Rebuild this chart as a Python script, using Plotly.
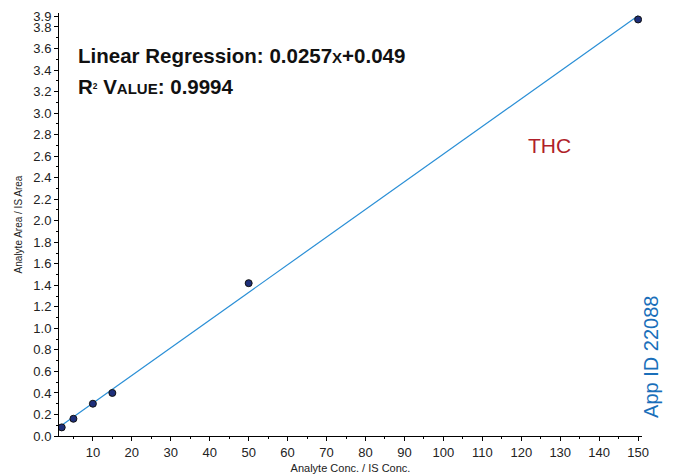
import plotly.graph_objects as go

conc = [2, 5, 10, 15, 50, 150]
ratio = [0.08, 0.16, 0.30, 0.40, 1.42, 3.87]
slope = 0.0257
intercept = 0.049
fit_x = [2, 150]
fit_y = [slope * v + intercept for v in fit_x]

x_tick_vals = [10, 20, 30, 40, 50, 60, 70, 80, 90, 100, 110, 120, 130, 140, 150]
y_tick_vals = [0.0, 0.2, 0.4, 0.6, 0.8, 1.0, 1.2, 1.4, 1.6, 1.8, 2.0, 2.2, 2.4,
               2.6, 2.8, 3.0, 3.2, 3.4, 3.6, 3.8, 3.9]
y_tick_text = ["%.1f" % v for v in y_tick_vals]

fig = go.Figure()
fig.add_trace(go.Scatter(x=fit_x, y=fit_y, mode="lines",
                         line=dict(color="#2a8fd6", width=1.2), showlegend=False))
fig.add_trace(go.Scatter(x=conc, y=ratio, mode="markers",
                         marker=dict(color="#1e2f7a", size=7,
                                     line=dict(color="#111111", width=1)),
                         showlegend=False))

font_main = "Liberation Sans, Arial, sans-serif"
fig.update_layout(
    width=675, height=474,
    margin=dict(l=59, r=33, t=13, b=38, autoexpand=False),
    paper_bgcolor="white", plot_bgcolor="white",
    font=dict(family=font_main, color="#222222"),
    xaxis=dict(range=[1.3, 151], showgrid=False, zeroline=False, automargin=False,
               showline=True, linecolor="black", linewidth=1,
               tickmode="array", tickvals=x_tick_vals,
               ticks="outside", ticklen=4, tickcolor="black",
               tickfont=dict(size=13, color="#222222"),
               minor=dict(tickmode="linear", tick0=0, dtick=5, ticks="outside",
                          ticklen=2, tickcolor="black"),
               title=dict(text="Analyte Conc. / IS Conc.",
                          font=dict(size=11, color="#222222"), standoff=6)),
    yaxis=dict(range=[0, 3.93], showgrid=False, zeroline=False, automargin=False,
               showline=True, linecolor="black", linewidth=1,
               tickmode="array", tickvals=y_tick_vals, ticktext=y_tick_text,
               ticks="outside", ticklen=4, tickcolor="black",
               tickfont=dict(size=13, color="#222222"),
               minor=dict(tickmode="linear", tick0=0, dtick=0.1, ticks="outside",
                          ticklen=2, tickcolor="black"),
               title=dict(text="Analyte Area / IS Area",
                          font=dict(size=10, color="#222222"), standoff=8)),
    annotations=[
        dict(xref="paper", yref="paper", x=0.029, y=0.90, xanchor="left", yanchor="middle",
             text="<b>Linear Regression: 0.0257<span style='font-size:15px'>X</span>+0.049</b>",
             showarrow=False, font=dict(size=20.5, color="#111111", family=font_main)),
        dict(xref="paper", yref="paper", x=0.029, y=0.826, xanchor="left", yanchor="middle",
             text="<b>R<span style='font-size:12px'><sup>2</sup></span> V<span style='font-size:15px'>ALUE</span>: 0.9994</b>",
             showarrow=False, font=dict(size=20.5, color="#111111", family=font_main)),
        dict(xref="paper", yref="paper", x=0.842, y=0.687, xanchor="center", yanchor="middle",
             text="THC", showarrow=False,
             font=dict(size=21, color="#b01f2a", family=font_main)),
        dict(xref="paper", x=1.0, xanchor="left", xshift=-4, yref="paper", y=0.187,
             yanchor="middle", text="App ID 22088", textangle=-90, showarrow=False,
             font=dict(size=20, color="#1a6fba", family=font_main)),
    ],
)

fig.write_html("out.html")
